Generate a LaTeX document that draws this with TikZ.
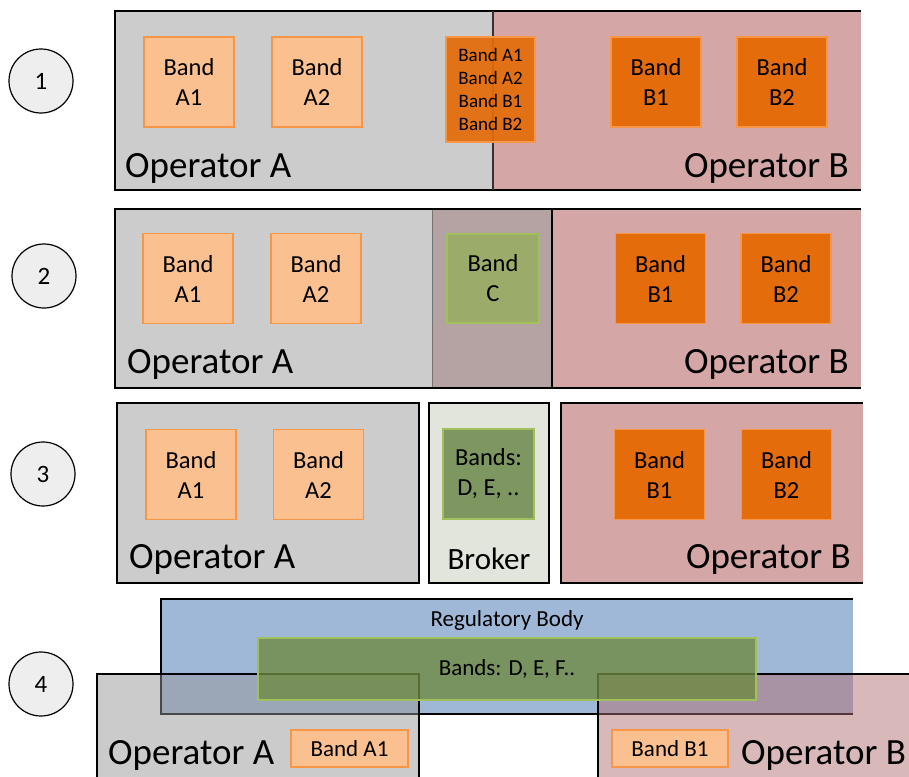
\documentclass[tikz,border=0pt]{standalone}
\usepackage{fontspec}
\setmainfont{Carlito}
\definecolor{opA}{RGB}{204,204,204}
\definecolor{opB}{RGB}{213,166,166}
\definecolor{opAB}{RGB}{181,163,163}
\definecolor{opAt}{RGB}{150,150,150}
\definecolor{opBt}{RGB}{175,109,109}
\definecolor{bandlight}{RGB}{250,192,144}
\definecolor{bandedge}{RGB}{247,150,70}
\definecolor{banddark}{RGB}{228,108,10}
\definecolor{greenC}{RGB}{155,171,106}
\definecolor{greenedge}{RGB}{160,192,92}
\definecolor{greenD}{RGB}{126,150,96}
\definecolor{greenR}{RGB}{110,137,66}
\definecolor{brokerbg}{RGB}{226,229,220}
\definecolor{regblue}{RGB}{160,184,216}
\definecolor{circfill}{RGB}{238,238,238}
\tikzset{
  frame/.style={line width=2pt, draw=black},
  bandbox/.style={minimum width=90pt, minimum height=90pt, inner sep=0pt,
    align=center, line width=1.5pt, font=\fontsize{24.5}{30}\selectfont},
  lightband/.style={bandbox, draw=bandedge, fill=bandlight},
  darkband/.style={bandbox, draw=bandedge, fill=banddark},
  greenband/.style={bandbox, draw=greenedge},
  oplabel/.style={inner sep=0pt, font=\fontsize{37}{40}\selectfont},
  stepnum/.style={circle, draw=black, line width=1.2pt, fill=circfill,
    minimum size=64pt, inner sep=0pt, font=\fontsize{25}{27}\selectfont},
}
\begin{document}
\begin{tikzpicture}[x=1pt, y=-1pt]
\clip (0,0) rectangle (909,776);
\fill[white] (0,0) rectangle (909,776);

% ---------- step numbers ----------
\node[stepnum] (n1) at (41,81) {1};
\node[stepnum] (n2) at (44,276) {2};
\node[stepnum] (n3) at (43,474) {3};
\node[stepnum] (n4) at (41,684) {4};

% ---------- 1: shared pool of all bands ----------
\fill[opA] (115,11) rectangle (493,190);
\fill[opB] (493,11) rectangle (861,190);
\draw[frame] (861,11) -- (115,11) -- (115,190) -- (861,190);
\draw[line width=1.2pt, black!80] (493,11) -- (493,190);
\node[lightband] (a1) at (189,82) {Band\\A1};
\node[lightband] (a2) at (317,82) {Band\\A2};
\node[darkband] (b1) at (656,82) {Band\\B1};
\node[darkband] (b2) at (782,82) {Band\\B2};
\node[bandbox, draw=bandedge, fill=banddark, fill opacity=0.93, text opacity=1,
  minimum width=89pt, minimum height=105pt,
  font=\fontsize{19}{23}\selectfont] (pool) at (490.5,89.5)
  {Band A1\\Band A2\\Band B1\\Band B2};
\node[oplabel, anchor=base west] (opa1) at (125,177) {Operator A};
\node[oplabel, anchor=base east] (opb1) at (849,177) {Operator B};

% ---------- 2: shared band C ----------
\fill[opA] (115,209) rectangle (432,388);
\fill[opAB] (432,209) rectangle (552,388);
\fill[opB] (552,209) rectangle (861,388);
\draw[line width=1pt, black!55] (432,209) -- (432,388);
\draw[frame] (115,209) rectangle (552,388);
\draw[frame] (552,209) -- (861,209);
\draw[frame] (552,388) -- (861,388);
\node[lightband] (a1b) at (188,278.5) {Band\\A1};
\node[lightband] (a2b) at (316,278.5) {Band\\A2};
\node[greenband, fill=greenC, minimum width=92pt, minimum height=89pt] (c) at (493,278.5) {Band\\C};
\node[darkband] (b1b) at (660.5,278.5) {Band\\B1};
\node[darkband] (b2b) at (786,278.5) {Band\\B2};
\node[oplabel, anchor=base west] (opa2) at (127,373) {Operator A};
\node[oplabel, anchor=base east] (opb2) at (849,373) {Operator B};

% ---------- 3: broker ----------
\fill[opA] (117,403) rectangle (419,583);
\draw[frame] (117,403) rectangle (419,583);
\fill[brokerbg] (429,403) rectangle (549,583);
\draw[frame] (429,403) rectangle (549,583);
\fill[opB] (561,403) rectangle (863,583);
\draw[frame] (863,403) -- (561,403) -- (561,583) -- (863,583);
\node[lightband] (a1c) at (191,474.5) {Band\\A1};
\node[lightband] (a2c) at (318.5,474.5) {Band\\A2};
\node[greenband, fill=greenD, minimum width=91pt] (dc) at (488.5,474) {Bands:\\D, E, ..};
\node[darkband] (b1c) at (659.5,474.5) {Band\\B1};
\node[darkband] (b2c) at (786.5,474.5) {Band\\B2};
\node[oplabel, anchor=base west] (opa3) at (129,568) {Operator A};
\node[oplabel, anchor=base, font=\fontsize{31}{34}\selectfont] (brk) at (489,569) {Broker};
\node[oplabel, anchor=base east] (opb3) at (851,568) {Operator B};

% ---------- 4: regulatory body ----------
\fill[regblue] (161,599) rectangle (853,714);
\draw[frame] (853,599) -- (161,599) -- (161,714) -- (853,714);
\node[inner sep=0pt, font=\fontsize{23}{25}\selectfont] (reg) at (507,620) {Regulatory Body};
\fill[opAt, fill opacity=0.486] (97,674) rectangle (419,800);
\draw[frame] (97,800) -- (97,674) -- (419,674) -- (419,800);
\fill[opBt, fill opacity=0.486] (598,674) rectangle (950,800);
\draw[frame] (950,674) -- (598,674) -- (598,800);
\node[draw=greenedge, line width=1.5pt, fill=greenR, fill opacity=0.8, text opacity=1,
  minimum width=498pt, minimum height=62pt, inner sep=0pt,
  font=\fontsize{23}{25}\selectfont] (pooled) at (507,669) {Bands: D, E, F..};
\node[lightband, minimum width=117pt, minimum height=37pt,
  font=\fontsize{23}{25}\selectfont] (a1d) at (349.5,748.5) {Band A1};
\node[lightband, minimum width=116pt, minimum height=37pt,
  font=\fontsize{23}{25}\selectfont] (b1d) at (670,748.5) {Band B1};
\node[oplabel, anchor=base west] (opa4) at (108,764) {Operator A};
\node[oplabel, anchor=base west] (opb4) at (741,764) {Operator B};
\end{tikzpicture}
\end{document}
